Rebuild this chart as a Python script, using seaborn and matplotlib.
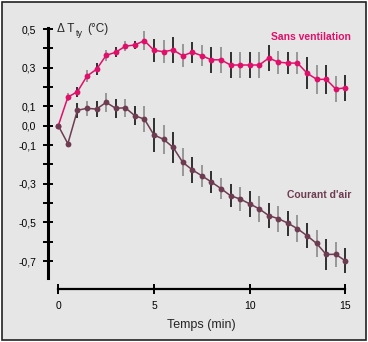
import matplotlib
matplotlib.use("Agg")
import matplotlib.pyplot as plt
import seaborn as sns
import pandas as pd
from matplotlib.patches import Rectangle

# ---- data ----
time_min = [0, 0.5, 1, 1.5, 2, 2.5, 3, 3.5, 4, 4.5, 5, 5.5, 6, 6.5, 7, 7.5,
            8, 8.5, 9, 9.5, 10, 10.5, 11, 11.5, 12, 12.5, 13, 13.5, 14, 14.5, 15]

sans_ventilation = [0.0, 0.148, 0.176, 0.257, 0.292, 0.364, 0.380, 0.411, 0.418, 0.440,
                    0.390, 0.383, 0.392, 0.362, 0.380, 0.362, 0.341, 0.341, 0.314, 0.314,
                    0.314, 0.314, 0.350, 0.329, 0.324, 0.324, 0.272, 0.240, 0.240, 0.190, 0.196]
sans_ventilation_err = [0.0, 0.02, 0.025, 0.03, 0.03, 0.028, 0.026, 0.025, 0.02, 0.05,
                        0.06, 0.06, 0.065, 0.06, 0.055, 0.055, 0.067, 0.067, 0.065, 0.065,
                        0.065, 0.065, 0.069, 0.06, 0.058, 0.058, 0.083, 0.075, 0.074, 0.069, 0.067]

courant_air = [0.0, -0.093, 0.080, 0.090, 0.086, 0.121, 0.090, 0.093, 0.052, 0.034,
               -0.048, -0.070, -0.112, -0.189, -0.228, -0.259, -0.291, -0.325, -0.362, -0.379,
               -0.404, -0.430, -0.465, -0.481, -0.504, -0.533, -0.569, -0.609, -0.666, -0.665, -0.699]
courant_air_err = [0.0, 0.0, 0.04, 0.04, 0.04, 0.05, 0.05, 0.047, 0.05, 0.068,
                   0.09, 0.076, 0.08, 0.072, 0.066, 0.058, 0.059, 0.056, 0.06, 0.061,
                   0.067, 0.066, 0.066, 0.067, 0.064, 0.069, 0.065, 0.069, 0.082, 0.066, 0.065]

y_ticks_major = [0.5, 0.3, 0.1, 0.0, -0.1, -0.3, -0.5, -0.7]
y_tick_labels = ["0,5", "0,3", "0,1", "0,0", "-0,1", "-0,3", "-0,5", "-0,7"]
y_ticks_minor = [0.4, 0.2, -0.2, -0.4, -0.6]
x_ticks = [0, 5, 10, 15]
x_tick_labels = ["0", "5", "10", "15"]

PINK = "#e0106a"
BROWN = "#6e3c50"
BG = "#e6e6e6"

sns.set_style("white")
plt.rcParams["font.family"] = ["Liberation Sans", "DejaVu Sans"]

fig = plt.figure(figsize=(3.68, 3.42), dpi=100, facecolor="white")
fig.patches.append(Rectangle((2 / 368, 2 / 342), 364 / 368, 338 / 342, transform=fig.transFigure,
                             facecolor=BG, edgecolor="#222222", linewidth=1.2, zorder=-5))
ax = fig.add_axes([0.1272, 0.1406, 0.9644 - 0.1272, 0.9433 - 0.1406])
ax.set_zorder(2)
ax.set_facecolor("none")

df = pd.DataFrame({"t": time_min, "sv": sans_ventilation, "sve": sans_ventilation_err,
                   "ca": courant_air, "cae": courant_air_err})

# error bars, alternating black / gray
for i, row in df.iterrows():
    col = "#111111" if i % 2 == 0 else "#8a8a8a"
    for v, e in ((row.sv, row.sve), (row.ca, row.cae)):
        if e > 0:
            ax.vlines(row.t, v - e, v + e, color=col, linewidth=1.2, zorder=2)

sns.lineplot(data=df, x="t", y="sv", ax=ax, color=PINK, linewidth=1.1, marker="o",
             markersize=4.2, markeredgewidth=0, zorder=3)
sns.lineplot(data=df, x="t", y="ca", ax=ax, color=BROWN, linewidth=1.1, marker="o",
             markersize=4.2, markeredgewidth=0, zorder=3)

ax.set_xlim(-0.6, 15.5)
ax.set_ylim(-0.87, 0.55)

for s in ("top", "right"):
    ax.spines[s].set_visible(False)
ax.spines["left"].set_position(("data", -0.54))
ax.spines["left"].set_bounds(-0.79, 0.505)
ax.spines["left"].set_linewidth(2.2)
ax.spines["bottom"].set_position(("data", -0.846))
ax.spines["bottom"].set_bounds(0, 15)
ax.spines["bottom"].set_linewidth(1.6)
for s in ("left", "bottom"):
    ax.spines[s].set_color("black")

ax.set_yticks(y_ticks_major)
ax.set_yticklabels(y_tick_labels)
ax.set_yticks(y_ticks_minor, minor=True)
ax.set_xticks(x_ticks)
ax.set_xticklabels(x_tick_labels)
ax.tick_params(axis="y", which="both", left=True, direction="inout", length=6.5, width=1.4,
               labelsize=7.5, pad=5, colors="black")
ax.tick_params(axis="x", which="both", bottom=True, direction="inout", length=7, width=1.4,
               labelsize=7.5, pad=5, colors="black")
ax.set_xlabel("Temps (min)", fontsize=9, labelpad=6)
ax.set_ylabel("")
ax.grid(False)

ax.text(-0.07, 0.5, "Δ T", fontsize=8.5, ha="left", va="center")
ax.text(0.9, 0.478, "ty", fontsize=6.5, ha="left", va="center")
ax.text(1.5, 0.5, "(°C)", fontsize=8.5, ha="left", va="center")
ax.text(15.3, 0.46, "Sans ventilation", color=PINK, fontsize=7.5, fontweight="bold",
        ha="right", va="center")
ax.text(15.3, -0.358, "Courant d'air", color=BROWN, fontsize=7.5, fontweight="bold",
        ha="right", va="center")

fig.savefig("out.png", dpi=100, facecolor="white")
